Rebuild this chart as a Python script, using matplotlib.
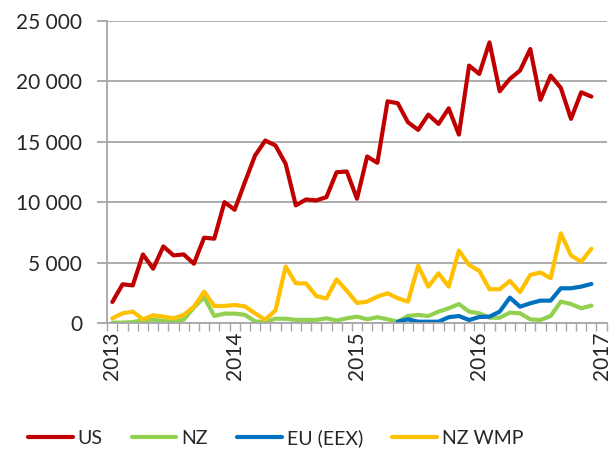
import matplotlib
matplotlib.use("Agg")
import matplotlib.pyplot as plt
from matplotlib.ticker import FuncFormatter, FixedLocator

# monthly values, Jan 2013 .. Dec 2016
us = [1760, 3220, 3130, 5690, 4510, 6350, 5610, 5690, 4920, 7070, 6990, 10010,
      9380, 11660, 13860, 15100, 14690, 13180, 9740, 10230, 10150, 10420, 12480, 12540,
      10290, 13780, 13260, 18340, 18180, 16610, 15980, 17240, 16470, 17760, 15590, 21290,
      20600, 23210, 19170, 20190, 20880, 22660, 18460, 20460, 19450, 16890, 19080, 18730]
nz = [50, 50, 100, 250, 300, 200, 100, 300, 1300, 2150, 600, 800,
      800, 700, 150, 100, 380, 370, 280, 280, 280, 410, 230, 410,
      550, 330, 500, 330, 130, 600, 690, 600, 960, 1240, 1590, 960,
      825, 460, 460, 880, 825, 330, 270, 600, 1790, 1590, 1240, 1460]
eu = [None] * 28 + [130, 330, 130, 130, 130, 500, 600, 270, 520,
                    550, 960, 2120, 1370, 1650, 1870, 1870, 2890, 2890, 3030, 3250]
nz_wmp = [410, 825, 960, 330, 660, 550, 410, 690, 1370, 2610, 1430, 1430,
          1510, 1400, 820, 300, 1060, 4680, 3300, 3300, 2250, 2050, 3630, 2680,
          1680, 1790, 2200, 2480, 2070, 1790, 4750, 3030, 4130, 3030, 6000, 4820,
          4330, 2810, 2810, 3500, 2570, 3990, 4200, 3720, 7430, 5600, 5090, 6160]
years = ["2013", "2014", "2015", "2016", "2017"]
series_names = ["US", "NZ", "EU (EEX)", "NZ WMP"]
colors = ["#C00000", "#92D050", "#0070C0", "#FFC000"]

plt.rcParams["font.family"] = ["Lato", "DejaVu Sans"]

fig = plt.figure(figsize=(6.13, 4.5), dpi=100)
ax = fig.add_axes([0.175, 0.2816, 0.8147, 0.6724])

x = list(range(len(us)))
for vals, name, col in zip([us, nz, eu, nz_wmp], series_names, colors):
    xs = [i for i, v in zip(x, vals) if v is not None]
    ys = [v for v in vals if v is not None]
    ax.plot(xs, ys, color=col, lw=3, label=name, solid_joinstyle="round",
            solid_capstyle="round")

grid_col = "#A6A6A6"
ax.set_ylim(0, 25000)
ax.set_yticks(range(0, 25001, 5000))
ax.yaxis.set_major_formatter(FuncFormatter(lambda v, p: f"{int(v):,}".replace(",", " ")))
ax.grid(axis="y", color=grid_col, lw=1.3)
ax.set_axisbelow(True)

ax.set_xlim(-0.5, 48.5)
ax.xaxis.set_major_locator(FixedLocator([0, 12, 24, 36, 48]))
ax.set_xticklabels(years, rotation=90)
ax.xaxis.set_minor_locator(FixedLocator([i - 0.5 for i in range(50)]))
ax.tick_params(axis="x", which="major", length=0, pad=6, labelsize=15, labelcolor="#262626")
ax.tick_params(axis="x", which="minor", length=6, width=1, color=grid_col, direction="out")
ax.tick_params(axis="y", length=7, width=1.3, color=grid_col, pad=11, labelsize=15,
               labelcolor="#262626")

for s in ["top", "right"]:
    ax.spines[s].set_visible(False)
ax.spines["left"].set_color(grid_col)
ax.spines["bottom"].set_color(grid_col)
ax.spines["left"].set_linewidth(1.3)
ax.spines["bottom"].set_linewidth(1.3)

fig.legend(loc="center left", bbox_to_anchor=(0.0457, 0.026), ncol=4, frameon=False,
           fontsize=14, handlelength=2.3, handletextpad=0.25, columnspacing=1.5,
           borderpad=0, borderaxespad=0, labelcolor="#262626")

fig.savefig("out.png", dpi=100)
